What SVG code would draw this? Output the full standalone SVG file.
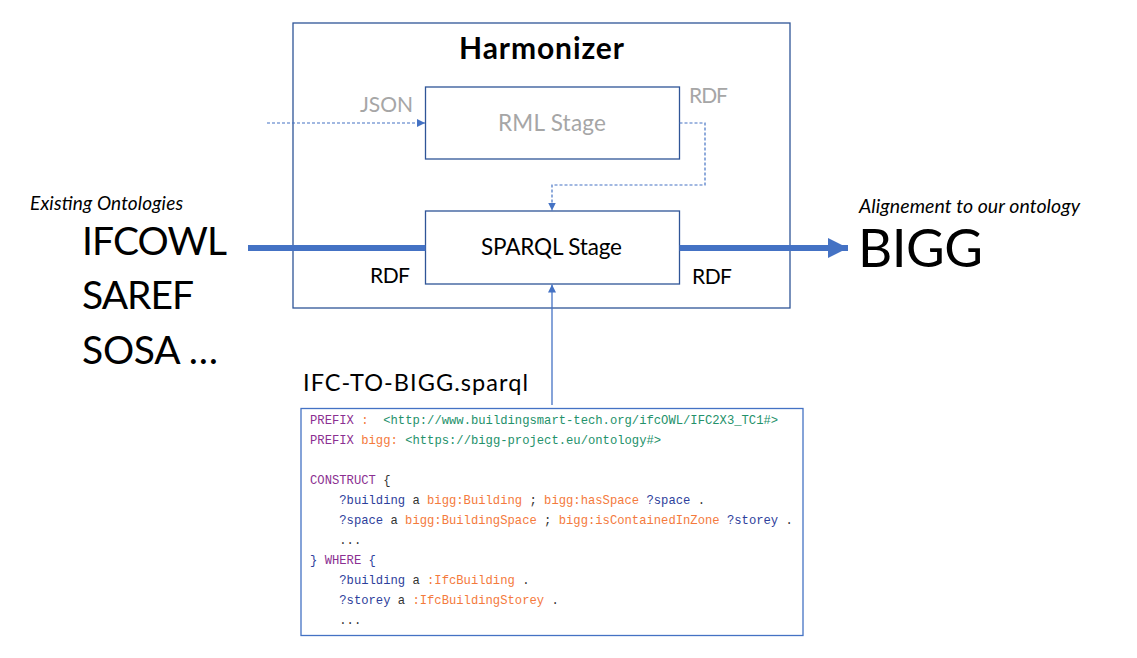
<svg xmlns="http://www.w3.org/2000/svg" width="1137" height="658" viewBox="0 0 1137 658">
<defs>
<style>
.box{fill:#ffffff;stroke:#2f5597;stroke-width:1.3}
.cal{font-family:Lato,"Open Sans","Liberation Sans",sans-serif}
.code{font-family:"Liberation Mono","DejaVu Sans Mono",monospace;font-size:12.2px;fill:#333333}
.kw{fill:#8b2f91}
.or{fill:#f47a3c}
.gr{fill:#23916a}
.va{fill:#2d3e9b}
.dash{fill:none;stroke:#4472c4;stroke-width:1.2;stroke-dasharray:3,2}
.thin{fill:none;stroke:#4472c4;stroke-width:1.3}
</style>
<marker id="ah" viewBox="0 0 10 10" refX="10" refY="5" markerWidth="8" markerHeight="8" markerUnits="userSpaceOnUse" orient="auto">
<path d="M0,0 L10,5 L0,10 z" fill="#4472c4"/>
</marker>
<marker id="big" viewBox="0 0 10 10" refX="10" refY="5" markerWidth="20" markerHeight="20" markerUnits="userSpaceOnUse" orient="auto">
<path d="M0,0 L10,5 L0,10 z" fill="#4472c4"/>
</marker>
</defs>
<rect width="1137" height="658" fill="#ffffff"/>

<g id="harmonizer">
<rect class="box" x="293" y="23" width="497" height="285"/>
<text class="cal" x="459" y="59" font-size="30" font-weight="bold" fill="#000" textLength="165">Harmonizer</text>
</g>

<g id="rml-stage">
<rect class="box" x="425.5" y="87" width="254" height="72"/>
<text class="cal" x="498" y="131" font-size="22.5" fill="#a6a6a6" textLength="108">RML Stage</text>
</g>

<g id="sparql-stage">
<rect class="box" x="425.5" y="211" width="254" height="73"/>
<text class="cal" x="481" y="255" font-size="22.5" fill="#000" textLength="141">SPARQL Stage</text>
</g>

<g id="existing">
<text class="cal" x="30" y="210" font-size="19" font-style="italic" fill="#000" textLength="153">Existing Ontologies</text>
<text class="cal" x="82" y="255" font-size="39" fill="#000" textLength="145">IFCOWL</text>
<text class="cal" x="82" y="309" font-size="39" fill="#000" textLength="112">SAREF</text>
<text class="cal" x="82" y="364" font-size="39" fill="#000" textLength="136">SOSA …</text>
</g>

<g id="bigg">
<text class="cal" x="859" y="213" font-size="19.5" font-style="italic" fill="#000" textLength="221">Alignement to our ontology</text>
<text class="cal" x="858" y="267" font-size="53" fill="#000" textLength="125">BIGG</text>
</g>

<g id="labels">
<text class="cal" x="360" y="112" font-size="21" fill="#a6a6a6" textLength="53">JSON</text>
<text class="cal" x="689" y="103" font-size="21" fill="#a6a6a6" textLength="39">RDF</text>
<text class="cal" x="370" y="283" font-size="21" fill="#000" textLength="40">RDF</text>
<text class="cal" x="692" y="284" font-size="21" fill="#000" textLength="40">RDF</text>
</g>

<g id="connectors">
<line x1="248" y1="248" x2="425.5" y2="248" stroke="#4472c4" stroke-width="6"/>
<line x1="679.5" y1="248" x2="848" y2="248" stroke="#4472c4" stroke-width="6" marker-end="url(#big)"/>
<line class="dash" x1="267" y1="123" x2="425" y2="123" marker-end="url(#ah)"/>
<polyline class="dash" points="679.5,123 705,123 705,185 552,185 552,210.5" marker-end="url(#ah)"/>
<line class="thin" x1="552" y1="405" x2="552" y2="284.5" marker-end="url(#ah)"/>
</g>

<g id="sparql-file">
<text class="cal" x="303" y="391" font-size="23.5" fill="#000" textLength="225">IFC-TO-BIGG.sparql</text>
<rect x="301" y="408.5" width="502" height="227" fill="#ffffff" stroke="#4472c4" stroke-width="1.3"/>
<text class="code" xml:space="preserve">
<tspan x="310" y="424"><tspan class="kw">PREFIX</tspan> <tspan class="or">:</tspan>  <tspan class="gr">&lt;http://www.buildingsmart-tech.org/ifcOWL/IFC2X3_TC1#&gt;</tspan></tspan>
<tspan x="310" y="444"><tspan class="kw">PREFIX</tspan> <tspan class="or">bigg:</tspan> <tspan class="gr">&lt;https://bigg-project.eu/ontology#&gt;</tspan></tspan>
<tspan x="310" y="484"><tspan class="kw">CONSTRUCT</tspan> {</tspan>
<tspan x="310" y="504">    <tspan class="va">?building</tspan> a <tspan class="or">bigg:Building</tspan> ; <tspan class="or">bigg:hasSpace</tspan> <tspan class="va">?space</tspan> .</tspan>
<tspan x="310" y="524">    <tspan class="va">?space</tspan> a <tspan class="or">bigg:BuildingSpace</tspan> ; <tspan class="or">bigg:isContainedInZone</tspan> <tspan class="va">?storey</tspan> .</tspan>
<tspan x="310" y="544">    ...</tspan>
<tspan x="310" y="564"><tspan class="va">}</tspan> <tspan class="kw">WHERE</tspan> <tspan class="va">{</tspan></tspan>
<tspan x="310" y="584">    <tspan class="va">?building</tspan> a <tspan class="or">:IfcBuilding</tspan> .</tspan>
<tspan x="310" y="604">    <tspan class="va">?storey</tspan> a <tspan class="or">:IfcBuildingStorey</tspan> .</tspan>
<tspan x="310" y="624">    ...</tspan>
</text>
</g>
</svg>
